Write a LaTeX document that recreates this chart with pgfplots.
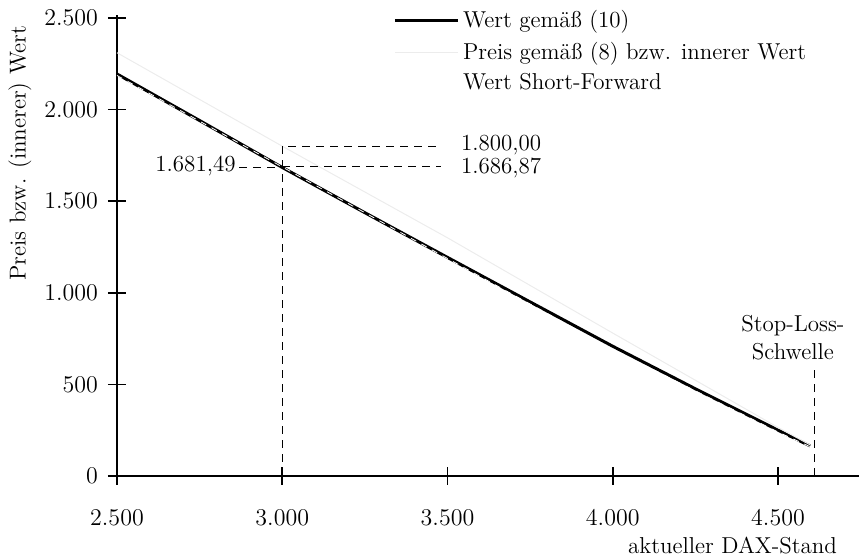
\documentclass[border=0pt]{standalone}
\usepackage{pgfplots}
\pgfplotsset{compat=1.18}
\begin{document}
\fontsize{11.5}{14}\selectfont
\begin{tikzpicture}
\begin{axis}[
  scale only axis,
  width=371pt, height=230.5pt,
  xmin=2500, xmax=4745, ymin=0, ymax=2516,
  axis lines*=left,
  axis line style={line width=0.9pt},
  xtick={2500,3000,3500,4000,4500},
  ytick={0,500,1000,1500,2000,2500},
  tick align=center,
  major tick length=9pt,
  tick style={line width=0.8pt,black},
  /pgf/number format/.cd, 1000 sep={.}, assume math mode=true,
  /pgfplots/.cd,
  tick label style={font=\fontsize{12}{14}\selectfont},
  xticklabel style={yshift=-8pt},
  yticklabel style={xshift=-1pt},
  ylabel={Preis bzw. (innerer) Wert},
  ylabel style={at={(axis description cs:-0.131,0.70)},anchor=center,font=\fontsize{11.5}{14}\selectfont},
  xlabel={aktueller DAX-Stand},
  xlabel style={at={(axis description cs:0.981,-0.15)},anchor=east,font=\fontsize{11.5}{14}\selectfont},
  legend style={draw=none,fill=none,at={(axis description cs:0.372,1.02)},anchor=north west,
    font=\fontsize{11.5}{14}\selectfont,row sep=1.5pt,inner sep=0pt,
    /tikz/every even column/.append style={column sep=1pt}},
  legend cell align=left,
  legend image code/.code={\draw[#1] (0cm,0cm) -- (1.1cm,0cm);},
  clip=false,
]
\addplot[black,line width=1.5pt] coordinates {
 (2500,2194) (2750,1940) (3000,1684) (3250,1437) (3500,1193)
 (3750,950) (4000,708) (4250,476) (4500,250) (4597,164)};
\addlegendentry{Wert gemäß (10)}
\addplot[gray!15,line width=0.5pt] coordinates {
 (2500,2310) (3000,1800) (3500,1300) (4000,780) (4500,265) (4597,170)};
\addlegendentry{Preis gemäß (8) bzw. innerer Wert}
\addplot[white,dashed,line width=0.4pt] coordinates {
 (2500,2186) (3000,1686.87) (3500,1187) (4000,690) (4500,240) (4597,160)};
\addlegendentry{Wert Short-Forward}
% annotation guides
\addplot[black,line width=0.5pt,dash pattern=on 4pt off 3pt,forget plot] coordinates {(3000,0) (3000,1800) (3480,1800)};
\addplot[black,line width=0.5pt,dash pattern=on 4pt off 3pt,forget plot] coordinates {(3000,1686.87) (3480,1686.87)};
\addplot[black,line width=0.5pt,dash pattern=on 4pt off 3pt,forget plot] coordinates {(2870,1681.49) (3000,1681.49)};
\addplot[black,line width=0.5pt,dash pattern=on 4pt off 3pt,forget plot] coordinates {(4610,0) (4610,590)};
\node[anchor=west,inner sep=0pt] at (axis cs:3540,1805) {1.800,00};
\node[anchor=west,inner sep=0pt] at (axis cs:3540,1680) {1.686,87};
\node[anchor=east,inner sep=0pt] at (axis cs:2860,1690) {1.681,49};
\node[anchor=south,align=center,inner sep=0pt] at (axis cs:4545,630) {Stop-Loss-\\Schwelle};
\coordinate (ll) at (axis cs:2500,0);
\end{axis}
\pgfresetboundingbox
\path ([shift={(-58.5pt,-41pt)}]ll) rectangle ([shift={(371pt,238pt)}]ll);
\end{tikzpicture}
\end{document}
